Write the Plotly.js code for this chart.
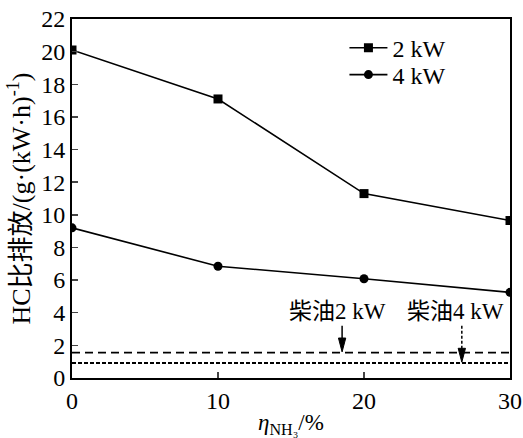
<!DOCTYPE html>
<html><head><meta charset="utf-8">
<script src="https://cdn.plot.ly/plotly-3.0.1.min.js"></script>
<style>body{margin:0;background:#fff}#c{width:523px;height:438px}</style>
</head><body><div id="c"></div>
<script>
const ratio = [0, 10, 20, 30];
const hc2kW = [20.1, 17.1, 11.3, 9.65];
const hc4kW = [9.2, 6.85, 6.08, 5.25];
const dieselRange = [0, 30];
const diesel2kW = 1.55;
const diesel4kW = 0.92;
const names = ['2 kW', '4 kW'];
const xTicks = [0, 10, 20, 30];
const yTicks = [0, 2, 4, 6, 8, 10, 12, 14, 16, 18, 20, 22];

const F = '"Liberation Serif", "Times New Roman", "Noto Sans CJK SC", serif';
const traces = [
  {x: ratio, y: hc2kW, name: names[0], mode: 'lines+markers', legend: 'legend',
   line: {color: '#000', width: 1.6}, marker: {symbol: 'square', size: 9, color: '#000'}},
  {x: ratio, y: hc4kW, name: names[1], mode: 'lines+markers', legend: 'legend2',
   line: {color: '#000', width: 1.6}, marker: {symbol: 'circle', size: 9, color: '#000'}},
  {x: dieselRange, y: [diesel2kW, diesel2kW], mode: 'lines', showlegend: false,
   line: {color: '#000', width: 1.8, dash: '8px,5px'}},
  {x: dieselRange, y: [diesel4kW, diesel4kW], mode: 'lines', showlegend: false,
   line: {color: '#000', width: 1.8, dash: '4px,2px'}}
];
const legStyle = {xanchor: 'left', yanchor: 'middle', bgcolor: 'rgba(0,0,0,0)',
                  font: {size: 24}, itemwidth: 38};
// arrow helpers (decorations)
const a2x = 18.5, a4x = 26.7, tailY = 3.2, hw = 0.25, hh = 0.85;
function head(x, tip) {
  return {type: 'path', xref: 'x', yref: 'y', fillcolor: '#000', line: {color: '#000', width: 1},
          path: `M ${x - hw} ${tip + hh} L ${x + hw} ${tip + hh} L ${x} ${tip} Z`};
}
const layout = {
  width: 523, height: 438,
  margin: {l: 72, r: 13, t: 19, b: 60},
  paper_bgcolor: '#fff', plot_bgcolor: '#fff',
  font: {family: F, size: 24, color: '#000'},
  showlegend: true,
  legend: Object.assign({x: 0.622, y: 0.919}, legStyle),
  legend2: Object.assign({x: 0.622, y: 0.844}, legStyle),
  xaxis: {range: [0, 30], tickvals: xTicks, ticks: 'inside', ticklen: 6, tickwidth: 1.5,
          showline: true, mirror: true, linewidth: 2, linecolor: '#000', showgrid: false, zeroline: false,
          title: {text: '<i>η</i><sub>NH₃</sub>/%', font: {size: 23}, standoff: 2}},
  yaxis: {range: [0, 22], tickvals: yTicks, ticks: 'inside', ticklen: 6, tickwidth: 1.5,
          showline: true, mirror: true, linewidth: 2, linecolor: '#000', showgrid: false, zeroline: false,
          title: {text: 'HC比排放/(g·(kW·h)<sup>-1</sup>)', font: {size: 26}, standoff: 3}},
  shapes: [
    {type: 'line', xref: 'x', yref: 'y', x0: a2x, x1: a2x, y0: tailY, y1: diesel2kW + hh,
     line: {color: '#000', width: 1.5}},
    head(a2x, diesel2kW + 0.05),
    {type: 'line', xref: 'x', yref: 'y', x0: a4x, x1: a4x, y0: tailY, y1: diesel4kW + hh,
     line: {color: '#000', width: 1.5, dash: '3px,2px'}},
    head(a4x, diesel4kW + 0.05)
  ],
  annotations: [
    {x: 18.2, y: 3.2, xref: 'x', yref: 'y', text: '柴油2 kW', showarrow: false, yanchor: 'bottom', font: {size: 23}},
    {x: 26.3, y: 3.2, xref: 'x', yref: 'y', text: '柴油4 kW', showarrow: false, yanchor: 'bottom', font: {size: 23}}
  ]
};
Plotly.newPlot('c', traces, layout, {staticPlot: true});
</script></body></html>
